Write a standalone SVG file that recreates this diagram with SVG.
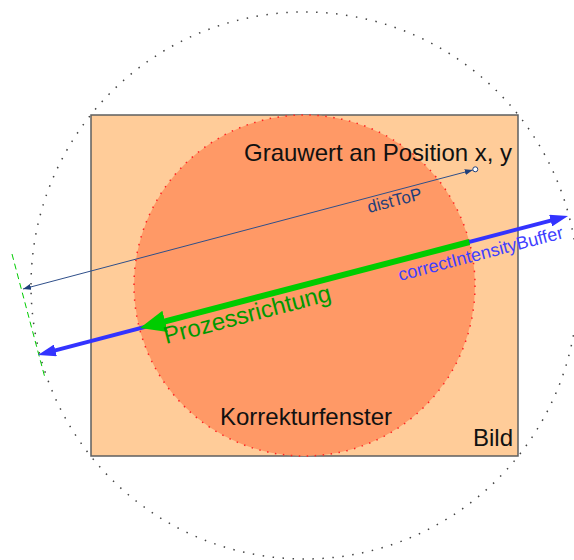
<svg xmlns="http://www.w3.org/2000/svg" width="574" height="560" viewBox="0 0 574 560">
<style>
text { font-family: "Liberation Sans", Arial, sans-serif; }
.lbl { font-size: 24px; fill: #111; }
</style>
<defs>
<marker id="ahBlue" markerUnits="userSpaceOnUse" viewBox="0 0 18 12" markerWidth="18" markerHeight="12" refX="4" refY="6" orient="auto-start-reverse">
<path d="M0,0 L18,6 L0,12 z" fill="#3333FF"/>
</marker>
<marker id="ahGreen" markerUnits="userSpaceOnUse" viewBox="0 0 26 22" markerWidth="26" markerHeight="22" refX="4" refY="11" orient="auto">
<path d="M0,0 L26,11 L0,22 z" fill="#00CC00"/>
</marker>
<marker id="ahDist" markerUnits="userSpaceOnUse" viewBox="0 0 8 6" markerWidth="8" markerHeight="6" refX="8" refY="3" orient="auto-start-reverse">
<path d="M0,0 L8,3 L0,6 z" fill="#1F3F7A"/>
</marker>
</defs>

<g id="bild">
<rect x="91" y="115" width="427" height="341" fill="#FFCC99" stroke="#5f5f5f" stroke-width="1.5"/>
<text class="lbl" x="473" y="446">Bild</text>
</g>

<g id="korrekturfenster">
<circle cx="304.5" cy="285.5" r="170.5" fill="#FF9966" stroke="#FF2222" stroke-width="1.5" stroke-dasharray="1.5 6.5"/>
<text class="lbl" x="220" y="425">Korrekturfenster</text>
</g>

<g id="umkreis">
<circle cx="304.5" cy="285.5" r="273.5" fill="none" stroke="#444" stroke-width="1.5" stroke-dasharray="1.5 8.5"/>
</g>

<g id="position">
<circle cx="475.3" cy="169.3" r="2.5" fill="#fff" stroke="#1F3F7A" stroke-width="1"/>
<text class="lbl" x="244" y="161">Grauwert an Position x, y</text>
</g>

<g id="connectors">
<line id="tangente" x1="12" y1="254" x2="45" y2="378" stroke="#00CC00" stroke-width="1" stroke-dasharray="6 4"/>
<line id="distToP" x1="23" y1="289" x2="472.8" y2="170" stroke="#2F4F8A" stroke-width="1" marker-start="url(#ahDist)" marker-end="url(#ahDist)"/>
<line id="buffer" x1="51.5" y1="351.4" x2="554.5" y2="219.6" stroke="#3333FF" stroke-width="4" marker-start="url(#ahBlue)" marker-end="url(#ahBlue)"/>
<line id="prozess" x1="469.4" y1="242" x2="161.3" y2="322.4" stroke="#00CC00" stroke-width="6" marker-end="url(#ahGreen)"/>
</g>

<g id="labels">
<text transform="translate(369,213) rotate(-14.7)" font-size="17" fill="#1F3F7A">distToP</text>
<text transform="translate(400,281) rotate(-14.7)" font-size="18" fill="#3F3FFF">correctIntensityBuffer</text>
<text transform="translate(166,344) rotate(-14.7)" font-size="24" fill="#009900">Prozessrichtung</text>
</g>
</svg>
